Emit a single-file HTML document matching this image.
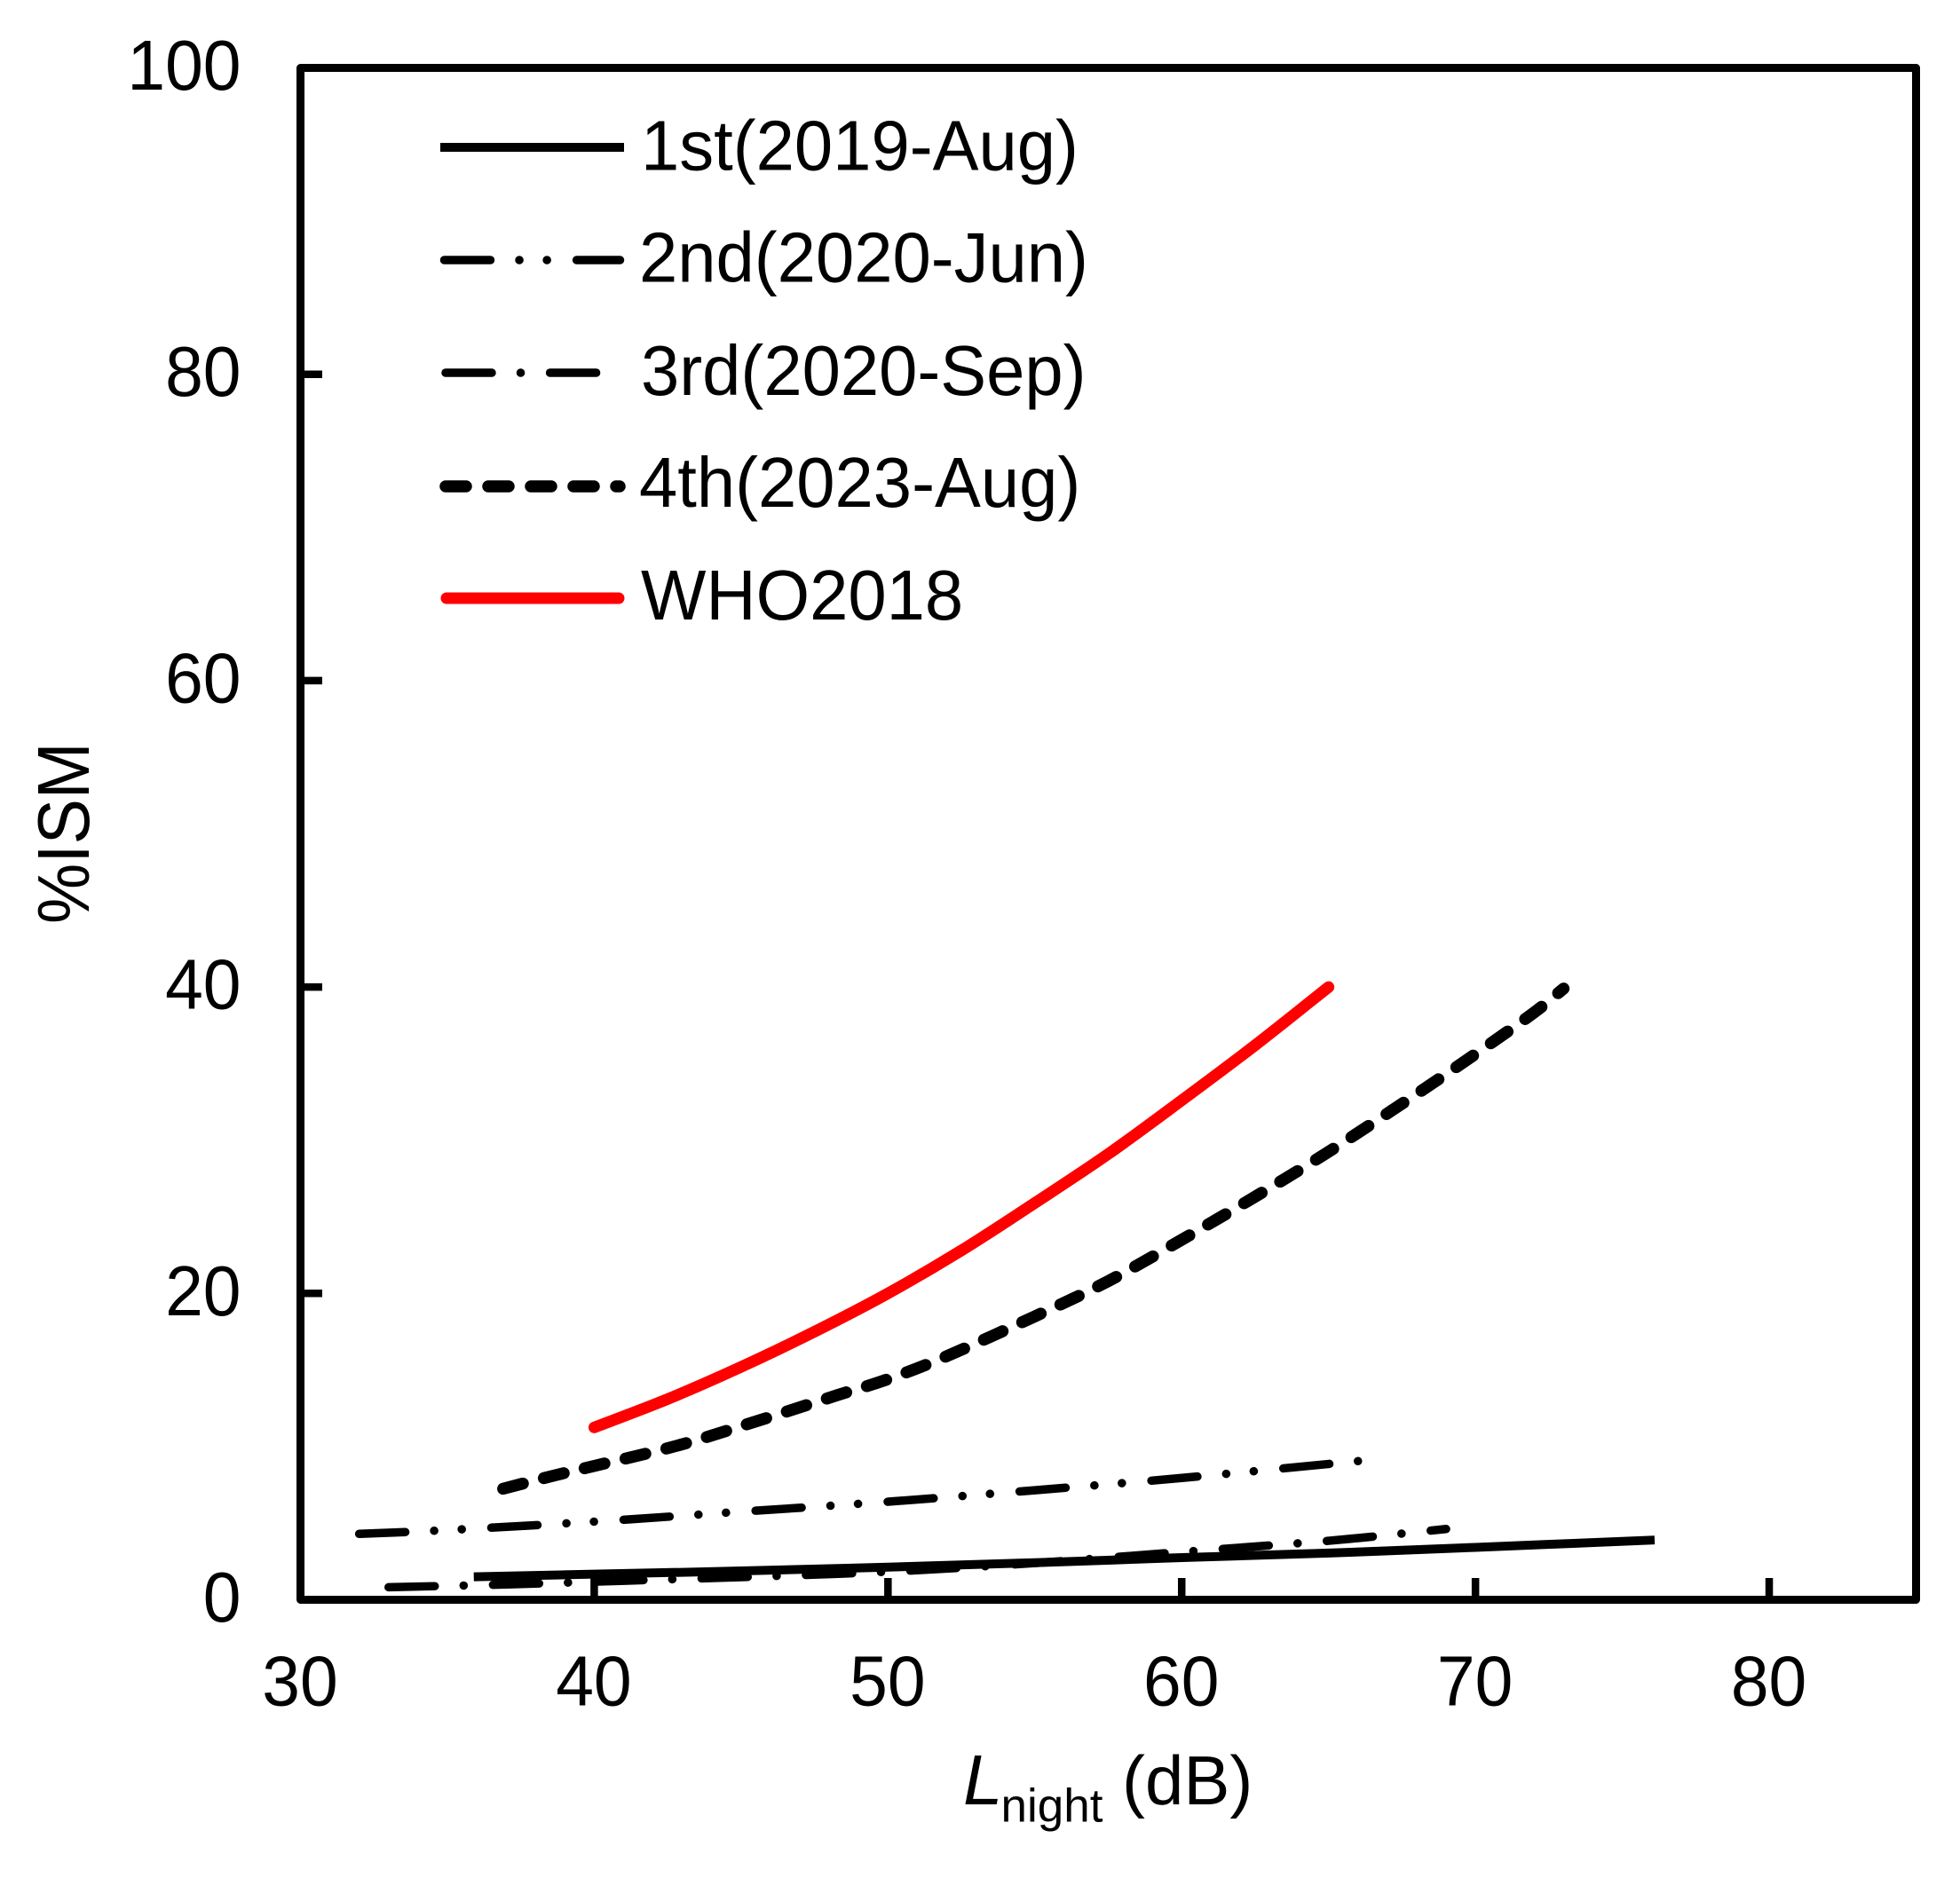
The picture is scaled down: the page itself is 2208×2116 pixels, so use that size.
<!DOCTYPE html>
<html lang="en">
<head>
<meta charset="utf-8">
<title>%ISM vs Lnight</title>
<style>
html,body{margin:0;padding:0;background:#fff;}
svg{display:block;}
text{font-family:"Liberation Sans",Arial,sans-serif;fill:#000;}
</style>
</head>
<body>
<svg id="chart" xmlns="http://www.w3.org/2000/svg" width="2208" height="2116" viewBox="0 0 2208 2116">
  <rect x="0" y="0" width="2208" height="2116" fill="#fff"/>
  <g id="ticks"></g>
  <g id="series"></g>
  <rect x="338.5" y="76.5" width="1820" height="1726" fill="none" stroke="#000" stroke-width="9" stroke-linejoin="round"/>
  <g id="tick-labels"></g>
  <g id="legend"></g>
  <text transform="translate(100,1041) rotate(-90) scale(0.96,1.03)" font-size="80">%ISM</text>
  <g>
    <text x="1085" y="2033" font-size="80" font-style="italic">L</text>
    <text x="1127.5" y="2052.5" font-size="53">night</text>
    <text x="1264" y="2033" font-size="78">(dB)</text>
  </g>
</svg>
<script>
var xTickValues = [30, 40, 50, 60, 70, 80];
var yTickValues = [0, 20, 40, 60, 80, 100];
var xDomain = [30, 85];
var yDomain = [0, 100];

var firstX = [35.9, 40, 45, 50, 55, 60, 65, 70, 76.1];
var firstY = [1.5, 1.67, 1.88, 2.13, 2.42, 2.75, 3.05, 3.42, 3.9];
var secondX = [32, 35, 40, 45, 50, 55, 60, 66];
var secondY = [4.3, 4.55, 5.1, 5.75, 6.4, 7.15, 7.95, 9.05];
var thirdX = [33, 37, 41, 45, 50, 55, 60, 65, 69];
var thirdY = [0.82, 1.0, 1.24, 1.48, 1.83, 2.4, 3.12, 3.85, 4.62];
var fourthX = [36.9, 38.7, 40.1, 42.9, 45.6, 48.3, 50, 52, 55, 57.5, 60, 62.4, 64.8, 67.2, 69.6, 71.9, 73];
var fourthY = [7.25, 8.14, 8.78, 10.1, 11.7, 13.37, 14.4, 15.9, 18.5, 20.8, 23.5, 26.2, 29, 32, 35.1, 38.2, 39.9];
var whoX = [40, 42.5, 45, 47.5, 50, 52.5, 55, 57.5, 60, 62.5, 65];
var whoY = [11.25, 13.1, 15.2, 17.5, 20, 22.8, 25.9, 29.1, 32.6, 36.2, 40];

var legendLabels = ["1st(2019-Aug)", "2nd(2020-Jun)", "3rd(2020-Sep)", "4th(2023-Aug)", "WHO2018"];

var NS = "http://www.w3.org/2000/svg";
var plotLeft = 338.5, plotRight = 2158.5, plotTop = 76.5, plotBottom = 1802.5;

function sx(v) { return plotLeft + (v - xDomain[0]) / (xDomain[1] - xDomain[0]) * (plotRight - plotLeft); }
function sy(v) { return plotBottom - (v - yDomain[0]) / (yDomain[1] - yDomain[0]) * (plotBottom - plotTop); }

function curve(xs, ys) {
  var p = xs.map(function (x, i) { return [sx(x), sy(ys[i])]; });
  var d = "M" + p[0][0].toFixed(2) + " " + p[0][1].toFixed(2);
  for (var i = 0; i < p.length - 1; i++) {
    var a = p[Math.max(i - 1, 0)], b = p[i], c = p[i + 1], e = p[Math.min(i + 2, p.length - 1)];
    var c1x = b[0] + (c[0] - a[0]) / 6, c1y = b[1] + (c[1] - a[1]) / 6;
    var c2x = c[0] - (e[0] - b[0]) / 6, c2y = c[1] - (e[1] - b[1]) / 6;
    d += "C" + c1x.toFixed(2) + " " + c1y.toFixed(2) + " " + c2x.toFixed(2) + " " + c2y.toFixed(2) + " " + c[0].toFixed(2) + " " + c[1].toFixed(2);
  }
  return d;
}

function styleLine(el, color, width, dash, cap) {
  el.setAttribute("fill", "none");
  el.setAttribute("stroke", color);
  el.setAttribute("stroke-width", width);
  el.setAttribute("stroke-linecap", cap);
  el.setAttribute("stroke-linejoin", "round");
  if (dash) el.setAttribute("stroke-dasharray", dash);
}

var ticksG = document.getElementById("ticks");
var labelsG = document.getElementById("tick-labels");
var NARROW = 0.96;

xTickValues.forEach(function (v) {
  if (v !== xDomain[0]) {
    var t = document.createElementNS(NS, "line");
    
    
    t.setAttribute("x1", sx(v)); t.setAttribute("x2", sx(v));
    t.setAttribute("y1", plotBottom); t.setAttribute("y2", 1778);
    t.setAttribute("stroke", "#000"); t.setAttribute("stroke-width", 8.5);
    ticksG.appendChild(t);
  }
  var l = document.createElementNS(NS, "text");
  
  
  l.setAttribute("transform", "translate(" + (sx(v) - 0.5) + ",1921.5) scale(" + NARROW + ",1)");
  l.setAttribute("font-size", 80); l.setAttribute("text-anchor", "middle");
  l.textContent = v;
  labelsG.appendChild(l);
});

yTickValues.forEach(function (v) {
  if (v !== yDomain[0] && v !== yDomain[1]) {
    var t = document.createElementNS(NS, "line");
    
    
    t.setAttribute("x1", plotLeft); t.setAttribute("x2", 363);
    t.setAttribute("y1", sy(v)); t.setAttribute("y2", sy(v));
    t.setAttribute("stroke", "#000"); t.setAttribute("stroke-width", 8.5);
    ticksG.appendChild(t);
  }
  var l = document.createElementNS(NS, "text");
  
  
  l.setAttribute("transform", "translate(271.5," + (sy(v) + 24.5) + ") scale(" + NARROW + ",1)");
  l.setAttribute("font-size", 80); l.setAttribute("text-anchor", "end");
  l.textContent = v;
  labelsG.appendChild(l);
});

var seriesG = document.getElementById("series");
var DASH2 = "52 32.5 0.1 31 0.1 33.4";
var DASH3 = "52 32.5 0.1 33";
var DASH4 = "23 25";

var s1 = document.createElementNS(NS, "path");


s1.setAttribute("d", curve(firstX, firstY));
styleLine(s1, "#000", 10, null, "butt");

var s2 = document.createElementNS(NS, "path");


s2.setAttribute("d", curve(secondX, secondY));
styleLine(s2, "#000", 9.5, DASH2, "round");

var s3 = document.createElementNS(NS, "path");


s3.setAttribute("d", curve(thirdX, thirdY));
styleLine(s3, "#000", 9.5, DASH3, "round");

var s4 = document.createElementNS(NS, "path");


s4.setAttribute("d", curve(fourthX, fourthY));
styleLine(s4, "#000", 13.5, DASH4, "round");

var s5 = document.createElementNS(NS, "path");


s5.setAttribute("d", curve(whoX, whoY));
styleLine(s5, "#ff0000", 13, null, "round");

seriesG.appendChild(s3);
seriesG.appendChild(s1);
seriesG.appendChild(s2);
seriesG.appendChild(s4);
seriesG.appendChild(s5);

// Fit the dash period so the last short dash lands on the end of the curve.
var s4Length = s4.getTotalLength();
var s4Count = Math.round((s4Length - 8) / 48);
var s4Period = (s4Length - 8) / s4Count;
s4.setAttribute("stroke-dasharray", "23 " + (s4Period - 23).toFixed(3));

var legendG = document.getElementById("legend");
var legendRows = [166, 293, 420, 548, 674];
var legendTextX = [722, 720, 722, 720, 722];
var legendBase = [191.5, 317.5, 445, 571, 698];
var legendStart = [496, 500.5, 502, 502, 503];
var legendEnd = [703, 698.5, 674, 698, 697];
var legendColor = ["#000", "#000", "#000", "#000", "#ff0000"];
var legendWidth = [10, 9.5, 9.5, 13.5, 13];
var legendDash = [null, DASH2, DASH3, DASH4, null];
var legendCap = ["butt", "round", "round", "round", "round"];

legendLabels.forEach(function (label, i) {
  var sw = document.createElementNS(NS, "line");
  
  
  sw.setAttribute("x1", legendStart[i]); sw.setAttribute("x2", legendEnd[i]);
  sw.setAttribute("y1", legendRows[i]); sw.setAttribute("y2", legendRows[i]);
  styleLine(sw, legendColor[i], legendWidth[i], legendDash[i], legendCap[i]);
  legendG.appendChild(sw);
  var t = document.createElementNS(NS, "text");
  
  
  t.setAttribute("transform", "translate(" + legendTextX[i] + "," + legendBase[i] + ") scale(0.9725,1)");
  t.setAttribute("font-size", 80);
  t.textContent = label;
  legendG.appendChild(t);
});
</script>
</body>
</html>
